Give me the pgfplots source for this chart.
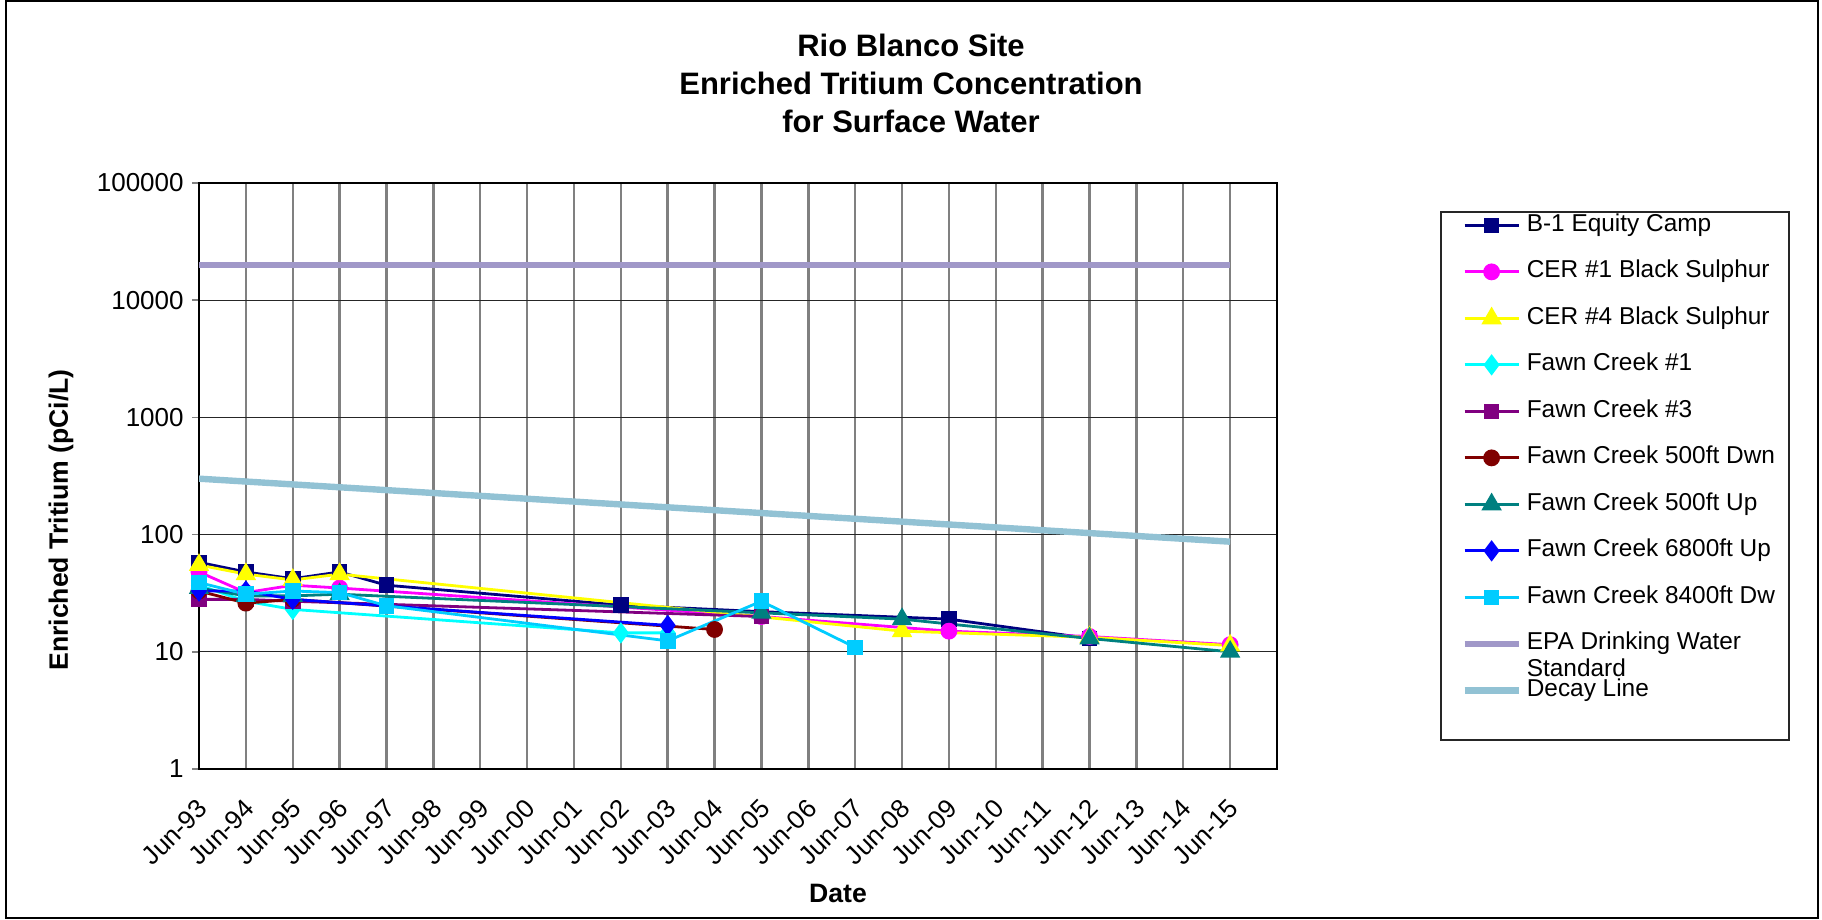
\documentclass[border=0pt]{standalone}
\usepackage{pgfplots}
\pgfplotsset{compat=1.18}
\usepackage{fontspec}
\setmainfont{Liberation Sans}
\definecolor{cB}{RGB}{0,0,128}
\definecolor{cM}{RGB}{255,0,255}
\definecolor{cY}{RGB}{255,255,0}
\definecolor{cC}{RGB}{0,255,255}
\definecolor{cP}{RGB}{128,0,128}
\definecolor{cR}{RGB}{128,0,0}
\definecolor{cT}{RGB}{0,128,128}
\definecolor{cBl}{RGB}{0,0,255}
\definecolor{cS}{RGB}{0,204,255}
\definecolor{cEPA}{RGB}{160,152,200}
\definecolor{cDec}{RGB}{146,194,212}
\begin{document}
\begin{tikzpicture}
\path (0pt,0pt) rectangle (911pt,460pt);
\draw[line width=0.8pt] (3pt,1pt) rectangle (909pt,459.5pt);
\node[anchor=base,font=\bfseries\fontsize{15.5}{19}\selectfont] at (455.5pt,431.5pt) {Rio Blanco Site};
\node[anchor=base,font=\bfseries\fontsize{15.5}{19}\selectfont] at (455.5pt,412.5pt) {Enriched Tritium Concentration};
\node[anchor=base,font=\bfseries\fontsize{15.5}{19}\selectfont] at (455.5pt,393.5pt) {for Surface Water};
\node[rotate=90,font=\bfseries\fontsize{13.3}{16}\selectfont] at (30.5pt,200pt) {Enriched Tritium (pCi/L)};
\node[font=\bfseries\fontsize{13.3}{16}\selectfont] at (419pt,13.5pt) {Date};
\draw[line width=0.75pt,black!85] (720.5pt,90pt) rectangle (894.5pt,354pt);
\begin{axis}[
  at={(99.5pt,75.5pt)}, anchor=south west,
  scale only axis, width=539pt, height=293pt,
  ymode=log, log basis y=10, ymin=1, ymax=100000,
  xmin=0, xmax=23,
  xtick={0,1,...,22},
  xticklabels={Jun-93,Jun-94,Jun-95,Jun-96,Jun-97,Jun-98,Jun-99,Jun-00,Jun-01,Jun-02,Jun-03,Jun-04,Jun-05,Jun-06,Jun-07,Jun-08,Jun-09,Jun-10,Jun-11,Jun-12,Jun-13,Jun-14,Jun-15},
  ytick={1,10,100,1000,10000,100000},
  yticklabels={1,10,100,1000,10000,100000},
  yminorticks=false,
  xmajorgrids, ymajorgrids,
  x grid style={draw=black!50,line width=1.2pt},
  y grid style={draw=black!85,line width=0.6pt},
  axis line style={line width=1.2pt},
  xtick style={draw=none},
  ytick style={line width=0.8pt},
  tick align=outside, ytick pos=left, major tick length=3.5pt,
  yticklabel style={font=\fontsize{13}{15}\selectfont, inner sep=0pt, xshift=-4pt},
  xticklabel style={font=\fontsize{13}{15}\selectfont, inner sep=0pt, xshift=2pt, yshift=-14pt, rotate=45, anchor=east},
  legend cell align=left,
  legend style={at={(1.1707,0.9488)}, anchor=north west, draw=none, fill=none, inner sep=0pt,
    font=\fontsize{12.2}{13.5}\selectfont, row sep=11.25pt, column sep=2.5pt,
    nodes={inner sep=0pt, text height=9pt, text depth=3pt}},
  legend image code/.code={\draw[mark repeat=2,mark phase=2] plot coordinates {(0pt,0pt) (13.5pt,0pt) (27pt,0pt)};},
  every axis plot/.append style={line width=1.4pt},
]
\addplot[color=cB, mark=square*, mark size=3.2pt, mark options={fill=cB}] coordinates {(0,58) (1,48) (2,42) (3,48) (4,37) (9,25) (12,22) (16,19) (19,13)};
\addlegendentry{B-1 Equity Camp}
\addplot[color=cM, mark=*, mark size=3.5pt, mark options={fill=cM}] coordinates {(0,48) (1,32) (2,37) (3,35) (12,20) (16,15) (19,13.5) (22,11.5)};
\addlegendentry{CER \#1 Black Sulphur}
\addplot[color=cY, mark=triangle*, mark size=4.5pt, mark options={fill=cY}] coordinates {(0,55) (1,46) (2,41) (3,46) (15,15) (19,13.3) (22,11.3)};
\addlegendentry{CER \#4 Black Sulphur}
\addplot[color=cC, mark=diamond*, mark size=4.2pt, mark options={fill=cC}] coordinates {(0,37) (1,27) (2,23) (9,14.5) (10,14.5)};
\addlegendentry{Fawn Creek \#1}
\addplot[color=cP, mark=square*, mark size=3.2pt, mark options={fill=cP}] coordinates {(0,28) (1,28) (2,27) (12,20)};
\addlegendentry{Fawn Creek \#3}
\addplot[color=cR, mark=*, mark size=3.5pt, mark options={fill=cR}] coordinates {(0,33) (1,26) (2,28) (11,15.5)};
\addlegendentry{Fawn Creek 500ft Dwn}
\addplot[color=cT, mark=triangle*, mark size=4.5pt, mark options={fill=cT}] coordinates {(0,35) (1,30) (2,30) (3,31) (12,21.5) (15,19) (19,13) (22,10)};
\addlegendentry{Fawn Creek 500ft Up}
\addplot[color=cBl, mark=diamond*, mark size=4.2pt, mark options={fill=cBl}] coordinates {(0,33) (1,33) (2,28) (10,16.8)};
\addlegendentry{Fawn Creek 6800ft Up}
\addplot[color=cS, mark=square*, mark size=3.2pt, mark options={fill=cS}] coordinates {(0,39) (1,31) (2,33) (3,32) (4,24.7) (10,12.4) (12,27) (14,10.9)};
\addlegendentry{Fawn Creek 8400ft Dw}
\addplot[color=cEPA, line width=3.2pt, no marks] coordinates {(0,20000) (22,20000)};
\addlegendentry{\smash{\begin{tabular}[t]{@{}l@{}}EPA Drinking Water\\Standard\end{tabular}}}
\addplot[color=cDec, line width=3.2pt, no marks] coordinates {(0,300) (22,87)};
\addlegendentry{Decay Line}
\end{axis}
\end{tikzpicture}
\end{document}
